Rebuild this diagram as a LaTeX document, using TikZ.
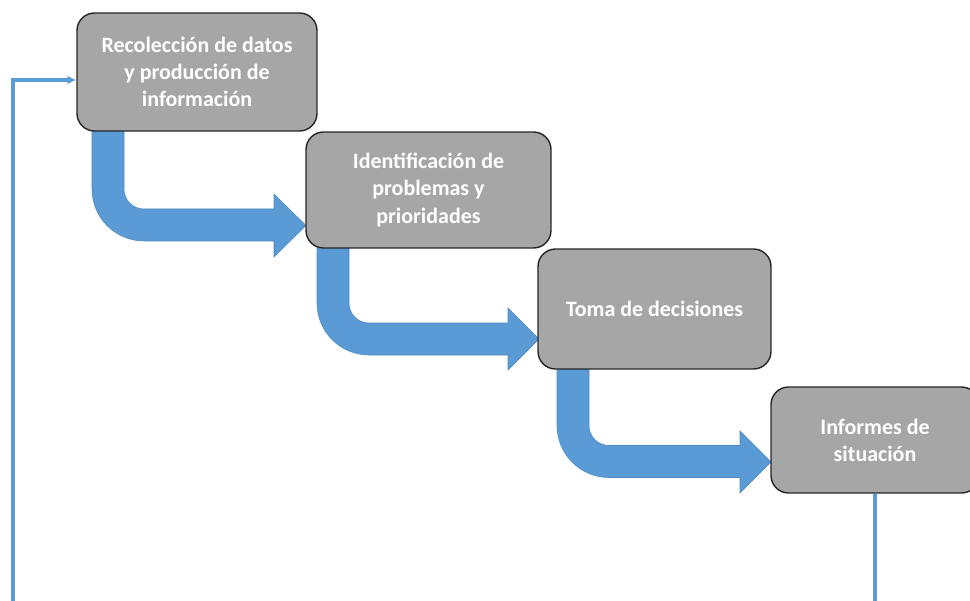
\documentclass[tikz,border=0pt]{standalone}
\usepackage{fontspec}
\setmainfont{Carlito}
\definecolor{boxgray}{HTML}{A6A6A6}
\definecolor{boxline}{HTML}{262626}
\definecolor{flowblue}{HTML}{5B9BD5}
\definecolor{flowedge}{HTML}{4A89C2}
\usetikzlibrary{arrows.meta}
\begin{document}
\begin{tikzpicture}[x=0.02cm,y=-0.02cm,
    etapa/.style={draw=boxline,line width=0.8pt,fill=boxgray,rounded corners=0.35cm,
      text=white,align=center,font=\fontsize{12.5}{15.4}\selectfont\bfseries,inner sep=0pt},
    flecha/.style={fill=flowblue,draw=flowedge,line width=0.3pt},
    retorno/.style={draw=flowblue,line width=2.1pt}]
  \useasboundingbox (0,0) rectangle (970,601);
  \clip (0,0) rectangle (970,601);
  \fill[flecha] (92,120) -- (92,189) arc[start angle=180,end angle=90,radius=52] -- (274,241)
    -- (274,257) -- (306,225.5) -- (274,194) -- (274,209) -- (144,209)
    arc[start angle=90,end angle=180,radius=20] -- (124,120) -- cycle;
  \fill[flecha] (317,240) -- (317,303) arc[start angle=180,end angle=90,radius=52] -- (508,355)
    -- (508,370) -- (539,339) -- (508,308) -- (508,323) -- (369,323)
    arc[start angle=90,end angle=180,radius=20] -- (349,240) -- cycle;
  \fill[flecha] (557,360) -- (557,425.5) arc[start angle=180,end angle=90,radius=52] -- (740,477.5)
    -- (740,493) -- (771,462) -- (740,431) -- (740,445.5) -- (609,445.5)
    arc[start angle=90,end angle=180,radius=20] -- (589,360) -- cycle;
  \node[etapa,minimum width=4.8cm,minimum height=2.36cm] (recoleccion) at (197,72)
    {Recolección de datos\\y producción de\\información};
  \node[etapa,minimum width=4.9cm,minimum height=2.32cm] (identificacion) at (428.5,190)
    {Identificación de\\problemas y\\prioridades};
  \node[etapa,minimum width=4.66cm,minimum height=2.4cm] (toma) at (654.5,309)
    {Toma de decisiones};
  \node[etapa,minimum width=4.16cm,minimum height=2.12cm] (informes) at (875,440)
    {Informes de\\situación};
  \coordinate (vuelta) at (13,80);
  \draw[retorno,-{Latex[length=5pt,width=5pt]}] (informes.south) |- (13,660) -- (vuelta)
    -- (vuelta -| recoleccion.west);
\end{tikzpicture}
\end{document}
